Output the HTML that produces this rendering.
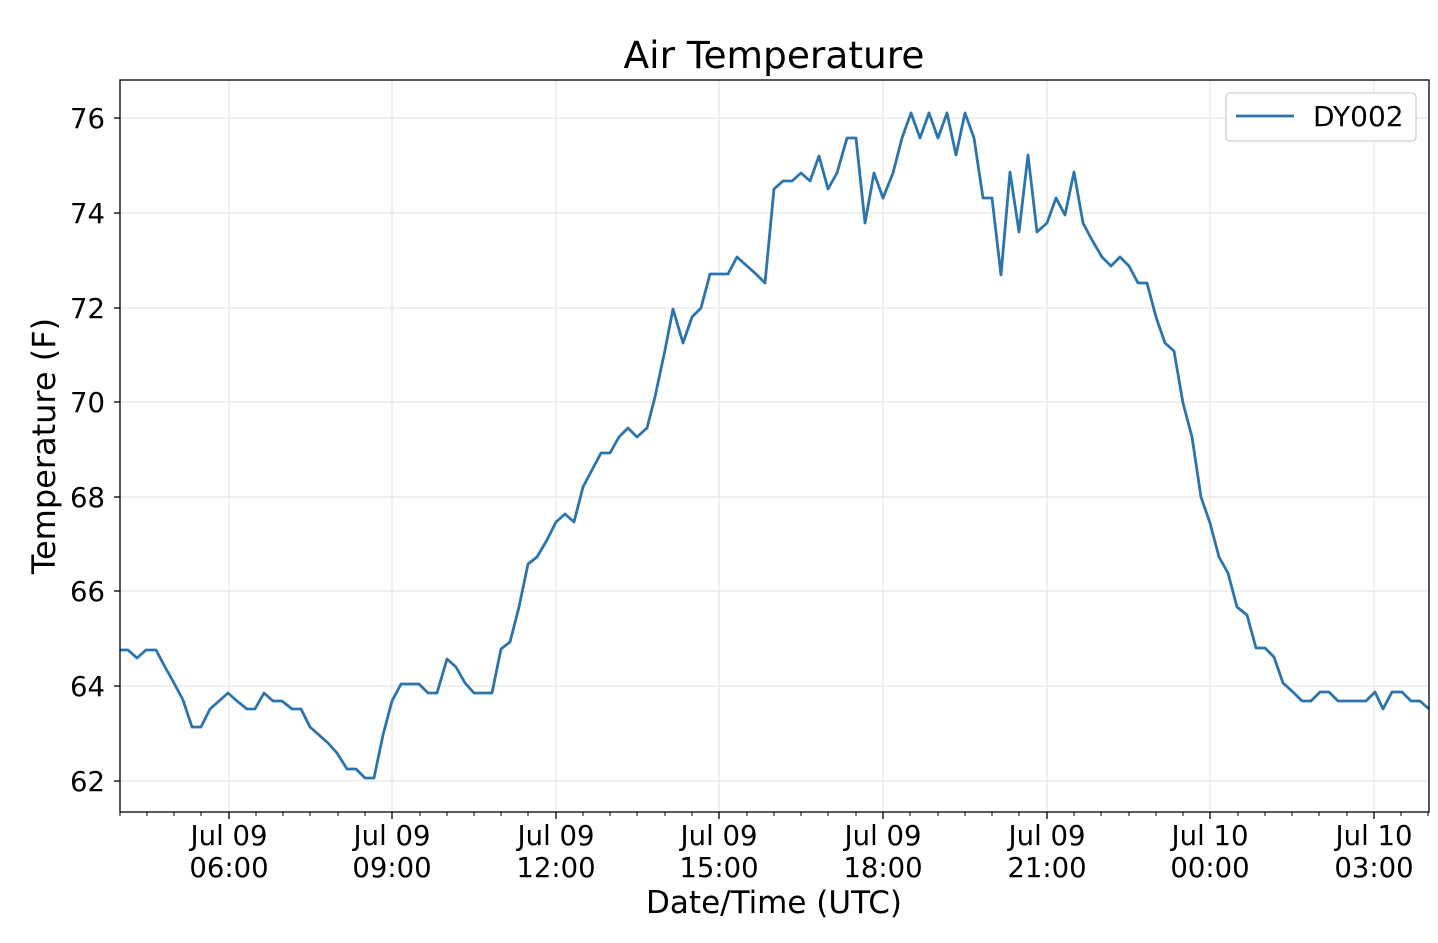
<!DOCTYPE html>
<html><head><meta charset="utf-8"><style>html,body{margin:0;padding:0;background:#fff}</style></head>
<body>
<svg width="1438" height="938" xmlns="http://www.w3.org/2000/svg" font-family="'DejaVu Sans', 'Liberation Sans', sans-serif" fill="#000">
<rect width="1438" height="938" fill="#fff"/>
<g stroke="#ebebeb" stroke-width="1.5">
<line x1="229" y1="80" x2="229" y2="812"/><line x1="392" y1="80" x2="392" y2="812"/><line x1="556" y1="80" x2="556" y2="812"/><line x1="719" y1="80" x2="719" y2="812"/><line x1="883" y1="80" x2="883" y2="812"/><line x1="1047" y1="80" x2="1047" y2="812"/><line x1="1210" y1="80" x2="1210" y2="812"/><line x1="1374" y1="80" x2="1374" y2="812"/>
<line x1="120" y1="118" x2="1429" y2="118"/><line x1="120" y1="213" x2="1429" y2="213"/><line x1="120" y1="308" x2="1429" y2="308"/><line x1="120" y1="402" x2="1429" y2="402"/><line x1="120" y1="497" x2="1429" y2="497"/><line x1="120" y1="591" x2="1429" y2="591"/><line x1="120" y1="686" x2="1429" y2="686"/><line x1="120" y1="781" x2="1429" y2="781"/>
</g>
<polyline fill="none" stroke="#2b74ad" stroke-width="2.8" stroke-linejoin="round" points="120,650 128,650 137,658 146,650 156,650 165,667 174,683 183,700 192,727 201,727 210,709 219,701 228,693 237,701 247,709 255,709 264,693 273,701 282,701 292,709 301,709 310,727 319,735 328,743 337,753 347,769 356,769 365,778 374,778 383,735 392,701 401,684 410,684 419,684 428,693 437,693 447,659 456,667 465,683 474,693 483,693 492,693 501,649 510,642 519,607 528,564 537,557 547,540 556,522 565,514 574,522 583,487 592,470 601,453 610,453 619,437 628,428 637,437 647,428 655,397 665,350 673,309 683,343 692,317 701,308 710,274 719,274 728,274 737,257 747,266 756,274 765,283 774,189 783,181 792,181 801,173 810,181 819,156 828,189 837,173 847,138 856,138 865,223 874,173 883,198 893,173 902,138 911,113 920,138 929,113 938,138 947,113 956,155 965,113 974,138 983,198 992,198 1001,275 1010,172 1019,232 1028,155 1037,232 1047,223 1056,198 1065,215 1074,172 1083,223 1092,240 1102,257 1111,266 1120,257 1129,266 1138,283 1147,283 1156,317 1165,343 1174,351 1183,403 1192,437 1201,497 1210,523 1219,557 1228,573 1237,607 1247,615 1256,648 1265,648 1274,657 1283,683 1293,692 1302,701 1311,701 1320,692 1329,692 1338,701 1347,701 1357,701 1366,701 1375,692 1383,709 1392,692 1402,692 1411,701 1420,701 1429,709"/>
<rect x="120" y="80" width="1309" height="732" fill="none" stroke="#000" stroke-width="1.3"/>
<g stroke="#000" stroke-width="1.3">
<line x1="114" y1="118" x2="120" y2="118"/><line x1="114" y1="213" x2="120" y2="213"/><line x1="114" y1="308" x2="120" y2="308"/><line x1="114" y1="402" x2="120" y2="402"/><line x1="114" y1="497" x2="120" y2="497"/><line x1="114" y1="591" x2="120" y2="591"/><line x1="114" y1="686" x2="120" y2="686"/><line x1="114" y1="781" x2="120" y2="781"/>
<line x1="229" y1="812" x2="229" y2="819"/><line x1="392" y1="812" x2="392" y2="819"/><line x1="556" y1="812" x2="556" y2="819"/><line x1="719" y1="812" x2="719" y2="819"/><line x1="883" y1="812" x2="883" y2="819"/><line x1="1047" y1="812" x2="1047" y2="819"/><line x1="1210" y1="812" x2="1210" y2="819"/><line x1="1374" y1="812" x2="1374" y2="819"/>
</g>
<g stroke="#000" stroke-width="1">
<line x1="120" y1="812" x2="120" y2="816"/><line x1="147" y1="812" x2="147" y2="816"/><line x1="174" y1="812" x2="174" y2="816"/><line x1="201" y1="812" x2="201" y2="816"/><line x1="256" y1="812" x2="256" y2="816"/><line x1="283" y1="812" x2="283" y2="816"/><line x1="310" y1="812" x2="310" y2="816"/><line x1="338" y1="812" x2="338" y2="816"/><line x1="365" y1="812" x2="365" y2="816"/><line x1="420" y1="812" x2="420" y2="816"/><line x1="447" y1="812" x2="447" y2="816"/><line x1="474" y1="812" x2="474" y2="816"/><line x1="501" y1="812" x2="501" y2="816"/><line x1="528" y1="812" x2="528" y2="816"/><line x1="583" y1="812" x2="583" y2="816"/><line x1="610" y1="812" x2="610" y2="816"/><line x1="637" y1="812" x2="637" y2="816"/><line x1="665" y1="812" x2="665" y2="816"/><line x1="692" y1="812" x2="692" y2="816"/><line x1="747" y1="812" x2="747" y2="816"/><line x1="774" y1="812" x2="774" y2="816"/><line x1="801" y1="812" x2="801" y2="816"/><line x1="828" y1="812" x2="828" y2="816"/><line x1="856" y1="812" x2="856" y2="816"/><line x1="910" y1="812" x2="910" y2="816"/><line x1="938" y1="812" x2="938" y2="816"/><line x1="965" y1="812" x2="965" y2="816"/><line x1="992" y1="812" x2="992" y2="816"/><line x1="1019" y1="812" x2="1019" y2="816"/><line x1="1074" y1="812" x2="1074" y2="816"/><line x1="1101" y1="812" x2="1101" y2="816"/><line x1="1129" y1="812" x2="1129" y2="816"/><line x1="1156" y1="812" x2="1156" y2="816"/><line x1="1183" y1="812" x2="1183" y2="816"/><line x1="1238" y1="812" x2="1238" y2="816"/><line x1="1265" y1="812" x2="1265" y2="816"/><line x1="1292" y1="812" x2="1292" y2="816"/><line x1="1319" y1="812" x2="1319" y2="816"/><line x1="1347" y1="812" x2="1347" y2="816"/><line x1="1401" y1="812" x2="1401" y2="816"/><line x1="1428" y1="812" x2="1428" y2="816"/>
</g>
<g font-size="27.5" text-anchor="end">
<text x="105" y="128">76</text><text x="105" y="223">74</text><text x="105" y="318">72</text><text x="105" y="412">70</text><text x="105" y="507">68</text><text x="105" y="601">66</text><text x="105" y="696">64</text><text x="105" y="791">62</text>
</g>
<g font-size="27.5" text-anchor="middle">
<text x="229" y="845">Jul 09</text><text x="229" y="877">06:00</text>
<text x="392" y="845">Jul 09</text><text x="392" y="877">09:00</text>
<text x="556" y="845">Jul 09</text><text x="556" y="877">12:00</text>
<text x="719" y="845">Jul 09</text><text x="719" y="877">15:00</text>
<text x="883" y="845">Jul 09</text><text x="883" y="877">18:00</text>
<text x="1047" y="845">Jul 09</text><text x="1047" y="877">21:00</text>
<text x="1210" y="845">Jul 10</text><text x="1210" y="877">00:00</text>
<text x="1374" y="845">Jul 10</text><text x="1374" y="877">03:00</text>
</g>
<text x="774" y="913" font-size="31" text-anchor="middle">Date/Time (UTC)</text>
<text transform="translate(55,446) rotate(-90)" font-size="32" text-anchor="middle">Temperature (F)</text>
<text x="774" y="68" font-size="37.5" text-anchor="middle">Air Temperature</text>
<rect x="1226" y="93" width="190" height="48" rx="4" fill="#fff" stroke="#d0d0d0" stroke-width="1.3"/>
<line x1="1236" y1="116" x2="1294" y2="116" stroke="#2b74ad" stroke-width="2.8"/>
<text x="1313" y="126" font-size="28">DY002</text>
</svg>
</body></html>
